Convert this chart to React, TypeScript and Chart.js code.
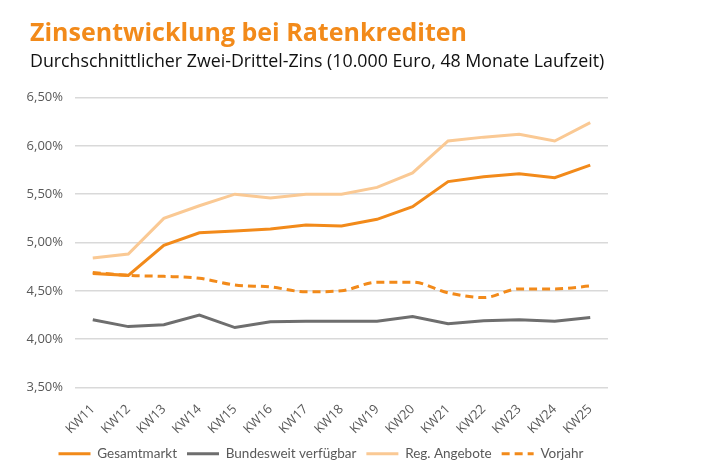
import React, { useEffect, useRef } from "react";
import { Chart, registerables } from "chart.js";

Chart.register(...registerables);

const categories = ["KW11", "KW12", "KW13", "KW14", "KW15", "KW16", "KW17", "KW18", "KW19", "KW20", "KW21", "KW22", "KW23", "KW24", "KW25"];
const gesamtmarkt = [4.68, 4.66, 4.97, 5.1, 5.12, 5.14, 5.18, 5.17, 5.24, 5.37, 5.63, 5.68, 5.71, 5.67, 5.8];
const bundesweit = [4.2, 4.13, 4.15, 4.25, 4.12, 4.18, 4.185, 4.185, 4.185, 4.235, 4.16, 4.19, 4.2, 4.185, 4.225];
const regAngebote = [4.84, 4.88, 5.25, 5.38, 5.5, 5.46, 5.5, 5.5, 5.57, 5.72, 6.05, 6.09, 6.12, 6.05, 6.24];
const vorjahr = [4.69, 4.66, 4.65, 4.63, 4.56, 4.54, 4.49, 4.5, 4.59, 4.59, 4.48, 4.43, 4.52, 4.52, 4.55];

const titleText = "Zinsentwicklung bei Ratenkrediten";
const subtitleText = "Durchschnittlicher Zwei-Drittel-Zins (10.000 Euro, 48 Monate Laufzeit)";

const ORANGE = "#F28A1A";
const GRAY = "#6E6E6E";
const LIGHT = "#FAC994";
const FONT = "'Open Sans', 'Noto Sans', sans-serif";
const LEGEND_FONT = "Lato, 'Open Sans', sans-serif";

const shiftLegend = {
  id: "shiftLegend",
  afterLayout(chart: any) {
    const lg = chart.legend;
    if (lg) { lg.left += 7; lg.right += 7; }
  },
};

export default function App() {
  const ref = useRef<HTMLCanvasElement>(null);
  useEffect(() => {
    if (!ref.current) return;
    const chart = new Chart(ref.current, {
      type: "line",
      data: {
        labels: categories,
        datasets: [
          { label: "Gesamtmarkt", data: gesamtmarkt, borderColor: ORANGE, backgroundColor: ORANGE, borderWidth: 3, pointRadius: 0, pointStyle: "line", tension: 0, order: 1 },
          { label: "Bundesweit verfügbar", data: bundesweit, borderColor: GRAY, backgroundColor: GRAY, borderWidth: 3, pointRadius: 0, pointStyle: "line", tension: 0, order: 2 },
          { label: "Reg. Angebote", data: regAngebote, borderColor: LIGHT, backgroundColor: LIGHT, borderWidth: 3, pointRadius: 0, pointStyle: "line", tension: 0, order: 3 },
          { label: "Vorjahr", data: vorjahr, borderColor: ORANGE, backgroundColor: ORANGE, borderWidth: 3, borderDash: [8, 5], pointRadius: 0, pointStyle: "line", tension: 0.35, cubicInterpolationMode: "monotone", order: 4 },
        ],
      },
      plugins: [shiftLegend],
      options: {
        animation: false,
        responsive: false,
        maintainAspectRatio: false,
        layout: { padding: { left: 20, right: 102, top: 97.5, bottom: 2.5 } },
        scales: {
          x: {
            offset: true,
            grid: { display: false },
            border: { display: false },
            afterFit: (scale: any) => { scale.height = 49.5; scale.paddingLeft = 0; scale.paddingRight = 0; },
            ticks: { color: "#595959", font: { family: FONT, size: 13 }, maxRotation: 45, minRotation: 45, padding: 6 },
          },
          y: {
            min: 3.5,
            max: 6.5,
            grid: { color: "#D9D9D9", lineWidth: 1.5, drawTicks: false },
            border: { display: false },
            afterFit: (scale: any) => { scale.width = 55; },
            ticks: {
              stepSize: 0.5,
              color: "#595959",
              padding: 12,
              font: { family: FONT, size: 13 },
              callback: (v: any) => Number(v).toFixed(2).replace(".", ",") + "%",
            },
          },
        },
        plugins: {
          title: { display: false },
          subtitle: { display: false },
          legend: {
            position: "bottom",
            labels: {
              usePointStyle: true,
              pointStyleWidth: 32,
              boxHeight: 12,
              color: "#595959",
              font: { family: LEGEND_FONT, size: 13.5 },
              padding: 10,
              generateLabels: (ch: any) => {
                const items = Chart.defaults.plugins.legend.labels.generateLabels(ch);
                return items.map((it: any) => {
                  const ds: any = ch.data.datasets[it.datasetIndex];
                  return { ...it, lineDash: ds.borderDash || [], lineWidth: 3, strokeStyle: ds.borderColor, fillStyle: ds.borderColor, pointStyle: "line" };
                });
              },
            },
          },
          tooltip: { enabled: false },
        },
      },
    });
    return () => chart.destroy();
  }, []);
  return (
    <div style={{ position: "fixed", left: 0, top: 0, width: 710, height: 473, background: "#fff" }}>
      <canvas ref={ref} width={710} height={473} style={{ display: "block" }} />
      <div style={{ position: "absolute", left: 30, top: 16, height: 30, lineHeight: "30px", fontFamily: FONT, fontWeight: "bold", fontSize: 25, color: ORANGE, whiteSpace: "nowrap" }}>{titleText}</div>
      <div style={{ position: "absolute", left: 30, top: 50, height: 21, lineHeight: "21.4px", fontFamily: FONT, fontSize: 17.8, color: "#111111", whiteSpace: "nowrap" }}>{subtitleText}</div>
    </div>
  );
}
